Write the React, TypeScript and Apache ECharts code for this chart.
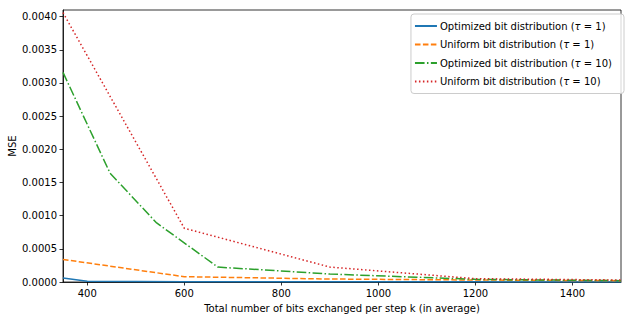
import React, { useEffect, useRef } from "react";
import * as echarts from "echarts";

const xTicks = [400, 600, 800, 1000, 1200, 1400];
const yTicks = [0, 0.0005, 0.001, 0.0015, 0.002, 0.0025, 0.003, 0.0035, 0.004];

const optT1X = [350, 400, 600, 900, 1200, 1500];
const optT1Y = [0.00006, 0.00001, 0.000005, 0.000003, 0.000002, 0.000001];

const uniT1X = [350, 600, 900, 1200, 1500];
const uniT1Y = [0.00034, 0.00008, 0.000045, 0.00003, 0.00002];

const optT10X = [350, 447, 543, 669, 900, 1200, 1500];
const optT10Y = [0.00316, 0.00164, 0.00089, 0.000225, 0.00012, 0.00004, 0.00002];

const uniT10X = [350, 600, 900, 1200, 1500];
const uniT10Y = [0.00406, 0.00081, 0.000225, 0.00005, 0.00003];

const names = [
  "Optimized bit distribution (τ = 1)",
  "Uniform bit distribution (τ = 1)",
  "Optimized bit distribution (τ = 10)",
  "Uniform bit distribution (τ = 10)",
];

const colors = ["#1f77b4", "#ff7f0e", "#2ca02c", "#d62728"];
const dashes: any[] = ["solid", [5.55, 2.4], [9.6, 2.4, 1.5, 2.4], [1.5, 2.475]];

const zip = (xs: number[], ys: number[]) => xs.map((x, i) => [x, ys[i]]);

export default function App() {
  const ref = useRef<HTMLDivElement>(null);
  useEffect(() => {
    const chart = echarts.init(ref.current!, null, { renderer: "svg" });
    const font = "DejaVu Sans";
    const datasets = [
      zip(optT1X, optT1Y),
      zip(uniT1X, uniT1Y),
      zip(optT10X, optT10Y),
      zip(uniT10X, uniT10Y),
    ];
    chart.setOption({
      animation: false,
      backgroundColor: "#fff",
      textStyle: { fontFamily: font },
      grid: {
        left: 63,
        right: 10,
        top: 10,
        bottom: 38,
        show: true,
        borderColor: "#000",
        borderWidth: 0.8,
        backgroundColor: "transparent",
        containLabel: false,
        outerBoundsMode: "none",
      },
      legend: {
        right: 7,
        top: 14,
        orient: "vertical",
        itemWidth: 22,
        itemHeight: 10,
        itemGap: 8.5,
        padding: [7, 12, 7, 3],
        borderColor: "#cccccc",
        borderWidth: 1,
        borderRadius: 3,
        backgroundColor: "rgba(255,255,255,0.8)",
        itemStyle: { opacity: 0 },
        data: names,
        formatter: (n: string) => {
          const m = n.match(/^(.*\()τ = (\d+)\)$/);
          if (!m) return n;
          return `${m[1]}{i|τ} = ${m[2]})`;
        },
        textStyle: {
          fontFamily: font,
          fontSize: 10,
          color: "#000",
          padding: [0, 0, 0, -2],
          rich: {
            i: { fontFamily: font, fontStyle: "italic", fontSize: 10, color: "#000" },
          },
        },
      },
      xAxis: {
        type: "value",
        min: 350,
        max: 1500,
        name: "Total number of bits exchanged per step k (in average)",
        nameLocation: "middle",
        nameGap: 21,
        nameMoveOverlap: false,
        nameTextStyle: { fontFamily: font, fontSize: 10, color: "#000" },
        axisLine: { show: true, lineStyle: { color: "#000", width: 0.8 } },
        axisTick: {
          show: true,
          length: 3.5,
          customValues: xTicks,
          lineStyle: { color: "#000", width: 0.8 },
        },
        axisLabel: {
          customValues: xTicks,
          fontFamily: font,
          fontSize: 10,
          color: "#000",
          margin: 6,
          formatter: (v: number) => String(v),
        },
        splitLine: { show: false },
      },
      yAxis: {
        type: "value",
        min: 0,
        max: 0.0041,
        name: "MSE",
        nameLocation: "middle",
        nameGap: 46,
        nameMoveOverlap: false,
        nameTextStyle: { fontFamily: font, fontSize: 10, color: "#000" },
        axisLine: { show: true, lineStyle: { color: "#000", width: 0.8 } },
        axisTick: {
          show: true,
          length: 3.5,
          customValues: yTicks,
          lineStyle: { color: "#000", width: 0.8 },
        },
        axisLabel: {
          customValues: yTicks,
          fontFamily: font,
          fontSize: 10,
          color: "#000",
          margin: 6,
          formatter: (v: number) => v.toFixed(4),
        },
        splitLine: { show: false },
      },
      series: names.map((n, i) => ({
        name: n,
        type: "line",
        data: datasets[i],
        showSymbol: false,
        symbol: "none",
        color: colors[i],
        lineStyle: { color: colors[i], width: 1.5, type: dashes[i] },
        z: 2 + i,
      })),
    });
    return () => chart.dispose();
  }, []);
  return (
    <div
      ref={ref}
      style={{ position: "fixed", left: 0, top: 0, width: 631, height: 320 }}
    />
  );
}
